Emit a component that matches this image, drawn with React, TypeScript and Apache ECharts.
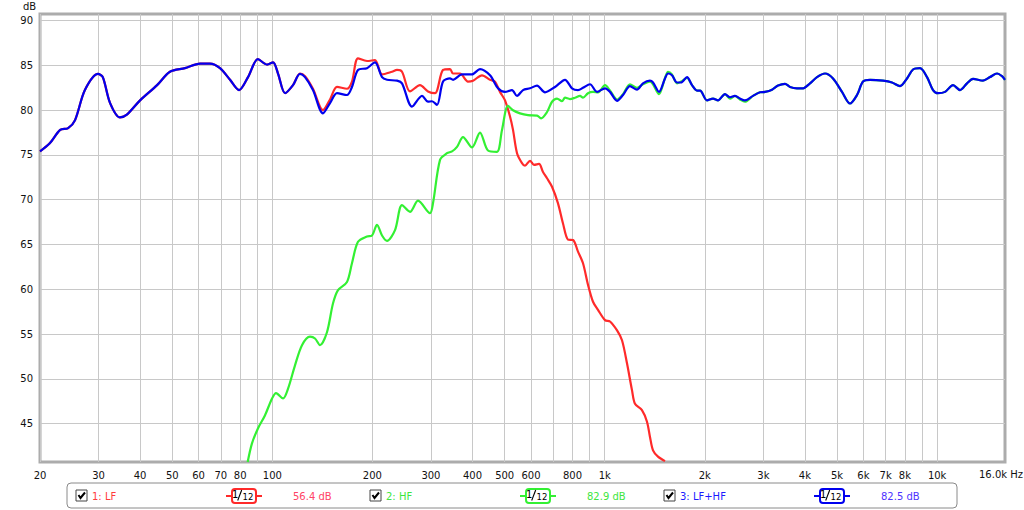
import React, { useEffect, useRef } from "react";
import * as echarts from "echarts";

// ---- axes ----
const GRID_FREQS = [20, 30, 40, 50, 60, 70, 80, 90, 100, 200, 300, 400, 500, 600, 700, 800, 900, 1000, 2000, 3000, 4000, 5000, 6000, 7000, 8000, 9000, 10000];
const LABEL_FREQS = [20, 30, 40, 50, 60, 70, 80, 100, 200, 300, 400, 500, 600, 800, 1000, 2000, 3000, 4000, 5000, 6000, 7000, 8000, 10000];
const DB_TICKS = [45, 50, 55, 60, 65, 70, 75, 80, 85, 90];
const X_MIN = 20;
const X_MAX = 16000;
const Y_MIN = 40.7;
const Y_MAX = 90.75;

// ---- 1: LF ----
const LF_FREQ = [20, 21.4, 23.0, 24.3, 25.5, 27.3, 29.9, 30.9, 32.5, 34.8, 36.5, 40.0, 45.0, 49.2, 54.6, 60.6, 64.9, 69.6, 74.6, 79.4, 84.5, 90.5, 96.4, 100.5, 104.0, 109.2, 115.4, 121.1,
  125.4, 132.5, 142.0, 149.1, 156.5, 167.7, 173.6, 181.0, 192.7, 203.6,
  213.8, 229.1, 237.2, 245.5, 259.5, 278.1, 294.0, 308.6, 326.2, 342.4,
  349.6, 366.9, 387.8, 401.5, 427.3, 451.7, 467.6, 484.0, 501.1, 518.8,
  529.7, 544.6, 563.7, 575.6, 595.9, 612.6, 634.2, 652.0, 670.4, 694.0,
  723.4, 748.9, 775.3, 802.6, 830.9, 860.2, 890.5, 921.9, 954.4, 1002,
  1037, 1089, 1127, 1167, 1208, 1233, 1294, 1340, 1368, 1397, 1446, 1518];
const LF_DB = [75.4, 76.3, 77.8, 78.0, 78.9, 82.25, 84.05, 83.7, 80.8, 79.2, 79.5, 81.1, 82.8, 84.3, 84.7, 85.2, 85.2, 84.7, 83.4, 82.25, 83.7, 85.7, 85.1, 85.35, 84.1, 81.9, 82.8, 84.1,
  83.8, 82.4, 80.0, 81.2, 82.6, 82.4, 83.2, 85.8, 85.5, 85.6,
  84.0, 84.3, 84.5, 84.3, 82.1, 82.8, 82.1, 81.9, 84.5, 84.6,
  84.1, 84.1, 83.2, 83.3, 83.9, 83.4, 83.2, 82.05, 81.1, 79.3,
  77.8, 75.2, 74.1, 73.8, 74.35, 73.9, 74.0, 73.1, 72.4, 71.45,
  69.6, 67.35, 65.55, 65.5, 64.2, 62.9, 60.5, 58.6, 57.7, 56.55,
  56.4, 55.4, 54.3, 51.7, 48.7, 47.2, 46.5, 45.2, 43.5, 42.0, 41.3, 40.8];

// ---- 2: HF ----
const HF_FREQ = [84.3, 86.8, 90.5, 95.0, 99.8, 102.6, 107.7, 111.5, 117.0, 122.8,
  129.8, 134.4, 139.1, 146.0, 152.2, 157.6, 167.7, 173.6, 181.0, 192.7,
  199.4, 206.5, 213.8, 221.3, 233.9, 245.5, 259.5, 274.3, 298.1, 304.3,
  319.5, 335.3, 347.2, 359.4, 374.6, 398.7, 421.4, 445.4, 474.1, 490.8,
  511.6, 529.7, 556.0, 587.7, 625.5, 643.1, 670.4, 694.0, 718.4, 743.7,
  759.4, 786.1, 813.8, 842.5, 860.2, 890.5, 921.9, 954.4, 1002, 1037,
  1089, 1135, 1191, 1250, 1303, 1368, 1397, 1456, 1518, 1550,
  1593, 1650, 1696, 1768, 1830, 1895, 1935,
  2031, 2117, 2191, 2300, 2381, 2465, 2552, 2642, 2793, 2932, 3035, 3186, 3321, 3486, 3609, 3788, 3949, 4145, 4351, 4599, 4861, 5173, 5468, 5740, 5984, 6281, 6873, 7315, 7732, 8116, 8461, 8881, 9323, 9718, 10060, 10561, 11163, 11717, 12299, 12822, 13736, 14422, 15139, 15672, 16000];
const HF_DB = [40.7, 42.75, 44.45, 45.9, 47.8, 48.4, 47.8, 48.9, 51.5, 53.75,
  54.7, 54.5, 53.75, 55.2, 58.4, 59.9, 60.8, 62.9, 65.3, 65.9,
  66.0, 67.2, 66.0, 65.4, 66.6, 69.4, 68.65, 69.9, 68.5, 69.6,
  74.45, 75.2, 75.4, 75.9, 77.0, 75.85, 77.5, 75.5, 75.35, 77.8,
  80.5, 80.0, 79.65, 79.45, 79.4, 79.1, 79.8, 80.95, 81.3, 81.0,
  81.4, 81.25, 81.4, 81.6, 81.4, 81.9, 82.05, 82.0, 82.8, 82.2,
  81.2, 81.8, 82.9, 82.5, 82.9, 83.2, 82.9, 81.8, 83.6, 84.3,
  84.0, 83.0, 83.2, 83.6, 82.8, 82.2, 82.2,
  81.1, 81.3, 81.1, 81.8, 81.3, 81.6, 81.2, 80.95, 81.6, 82.0, 82.05, 82.3, 82.75, 82.95, 82.6, 82.45, 82.45, 83.0, 83.7, 84.1, 83.55, 82.05, 80.75, 81.7, 83.2, 83.4, 83.3, 83.1, 82.7, 83.55, 84.55, 84.7, 83.7, 82.25, 81.9, 82.05, 82.8, 82.25, 83.0, 83.5, 83.3, 83.7, 84.1, 83.8, 83.4];

// ---- 3: LF+HF ----
const SUM_FREQ = [20, 21.4, 23.0, 24.3, 25.5, 27.3, 29.9, 30.9, 32.5, 34.8,
  36.5, 40.0, 45.0, 49.2, 54.6, 60.6, 64.9, 69.6, 74.6, 79.4,
  84.5, 90.5, 96.4, 100.5, 104.0, 109.2, 115.4, 121.1, 125.4, 132.5,
  142.0, 149.1, 156.5, 167.7, 173.6, 181.0, 192.7, 203.6, 213.8, 221.3,
  237.2, 245.5, 263.1, 282.0, 294.0, 302.2, 312.9, 326.2, 342.4, 349.6,
  372.0, 398.7, 421.4, 451.7, 477.4, 501.1, 526.0, 544.6, 567.7, 595.9,
  625.5, 661.1, 708.5, 759.4, 797.1, 830.9, 860.2, 902.9, 947.8, 1002,
  1037, 1089, 1135, 1191, 1250, 1303, 1368, 1397, 1456, 1518,
  1550, 1593, 1650, 1696, 1768, 1830, 1895, 1935, 2031, 2117,
  2191, 2300, 2381, 2465, 2552, 2642, 2793, 2932, 3035, 3186,
  3321, 3486, 3609, 3788, 3949, 4145, 4351, 4599, 4861, 5173,
  5468, 5740, 5984, 6281, 6873, 7315, 7732, 8116, 8461, 8881,
  9323, 9718, 10060, 10561, 11163, 11717, 12299, 12822, 13736, 14422,
  15139, 15672, 16000];
const SUM_DB = [75.4, 76.3, 77.8, 78.0, 78.9, 82.25, 84.05, 83.7, 80.8, 79.2,
  79.5, 81.1, 82.8, 84.3, 84.7, 85.2, 85.2, 84.7, 83.4, 82.25,
  83.7, 85.7, 85.1, 85.35, 84.1, 81.9, 82.8, 84.05, 83.7, 82.25,
  79.65, 80.8, 81.9, 81.7, 82.6, 84.5, 84.7, 85.35, 83.7, 83.4,
  83.3, 83.0, 80.4, 81.6, 80.95, 81.0, 80.6, 83.2, 83.55, 83.4,
  84.0, 84.0, 84.6, 83.9, 82.45, 82.05, 82.25, 81.6, 82.25, 82.45,
  82.75, 82.0, 82.6, 83.4, 82.45, 82.25, 82.5, 82.9, 82.05, 82.45,
  82.05, 81.05, 81.7, 82.7, 82.3, 83.0, 83.3, 83.1, 82.05, 83.55,
  84.1, 83.9, 83.1, 83.1, 83.7, 82.8, 82.2, 82.2, 81.1, 81.3,
  81.1, 81.8, 81.45, 81.6, 81.3, 81.1, 81.6, 82.0, 82.05, 82.3,
  82.75, 82.95, 82.6, 82.45, 82.45, 83.0, 83.7, 84.1, 83.55, 82.05,
  80.75, 81.7, 83.2, 83.4, 83.3, 83.1, 82.7, 83.55, 84.55, 84.7,
  83.7, 82.25, 81.9, 82.05, 82.8, 82.25, 83.0, 83.5, 83.3, 83.7,
  84.1, 83.8, 83.4];

// ---- legend ----
const LEGEND_NAMES = ["1: LF", "2: HF", "3: LF+HF"];
const LEGEND_VALUES = ["56.4 dB", "82.9 dB", "82.5 dB"];
const LINE_COLORS = ["#ff2a2a", "#33f033", "#0000ee"];
const NAME_COLORS = ["#ff3b3b", "#3ee63e", "#1a1aff"];
const VALUE_COLORS = ["#ff4466", "#3ee63e", "#4d33ff"];

const FONT = '"DejaVu Sans", Verdana, sans-serif';

function pairs(fs: number[], ds: number[]) {
  return fs.map((f, i) => [f, ds[i]]);
}

function badge(cx: number, cy: number, color: string) {
  return {
    type: "group",
    children: [
      { type: "line", shape: { x1: cx - 18, y1: cy, x2: cx + 18, y2: cy }, style: { stroke: color, lineWidth: 2 } },
      { type: "rect", shape: { x: cx - 12, y: cy - 7, width: 24, height: 14, r: 3 }, style: { fill: "#fff", stroke: color, lineWidth: 2 } },
      { type: "text", x: cx - 12, y: cy - 6.5, style: { text: "1", fontSize: 10, fontFamily: FONT, fill: "#000", verticalAlign: "top" } },
      { type: "line", shape: { x1: cx - 2.3, y1: cy - 6, x2: cx - 6.3, y2: cy + 4.5 }, style: { stroke: "#000", lineWidth: 1.1 } },
      { type: "text", x: cx - 1.5, y: cy + 5.5, style: { text: "12", fontSize: 8.5, fontFamily: FONT, fill: "#000", verticalAlign: "bottom" } },
    ],
  };
}

function checkbox(x: number, y: number) {
  return {
    type: "group",
    children: [
      { type: "rect", shape: { x, y, width: 11, height: 11 }, style: { fill: "#fff", stroke: "#444", lineWidth: 1 } },
      { type: "polyline", shape: { points: [[x + 2.5, y + 5], [x + 4.5, y + 8], [x + 9, y + 2.5]] }, style: { stroke: "#000", lineWidth: 2, fill: null } },
    ],
  };
}

export default function App() {
  const ref = useRef<HTMLDivElement>(null);
  useEffect(() => {
    document.body.style.margin = "0";
    const chart = echarts.init(ref.current!, null, { renderer: "svg" });
    const cbX = [76, 370, 664];
    const nameX = [92, 386, 680];
    const badgeX = [244, 538, 832];
    const valueX = [293, 587, 881];
    const legendEls: any[] = [
      { type: "rect", shape: { x: 67, y: 483, width: 890, height: 25, r: 4 }, style: { fill: "#fff", stroke: "#8a8a8a", lineWidth: 1 } },
    ];
    for (let i = 0; i < 3; i++) {
      legendEls.push(checkbox(cbX[i], 490));
      legendEls.push({ type: "text", x: nameX[i], y: 496, style: { text: LEGEND_NAMES[i], fill: NAME_COLORS[i], fontSize: 10, fontFamily: FONT, verticalAlign: "middle" } });
      legendEls.push(badge(badgeX[i], 496, LINE_COLORS[i]));
      legendEls.push({ type: "text", x: valueX[i], y: 496, style: { text: LEGEND_VALUES[i], fill: VALUE_COLORS[i], fontSize: 10, fontFamily: FONT, verticalAlign: "middle" } });
    }
    const lineSeries = (name: string, data: number[][], color: string, z: number) => ({
      name,
      type: "line",
      data,
      showSymbol: false,
      smooth: 0.3,
      z,
      lineStyle: { color, width: 2.2 },
      itemStyle: { color },
    });
    chart.setOption({
      animation: false,
      backgroundColor: "#fff",
      grid: { left: 40, right: 19, top: 14, bottom: 48, show: true, borderColor: "#acacac", borderWidth: 3, backgroundColor: "#fff" },
      xAxis: {
        type: "log",
        logBase: 10,
        min: X_MIN,
        max: X_MAX,
        axisLine: { show: false },
        axisTick: { show: false, customValues: GRID_FREQS },
        axisLabel: {
          customValues: LABEL_FREQS,
          formatter: (v: number) => (v >= 1000 ? Math.round(v / 1000) + "k" : String(Math.round(v))),
          fontSize: 10,
          fontFamily: FONT,
          color: "#111",
          margin: 8,
        },
        splitLine: { show: true, lineStyle: { color: "#c8c8c8", width: 1 } },
      },
      yAxis: {
        type: "value",
        min: Y_MIN,
        max: Y_MAX,
        axisLine: { show: false },
        axisTick: { show: false, customValues: DB_TICKS },
        axisLabel: { customValues: DB_TICKS, fontSize: 10, fontFamily: FONT, color: "#111", margin: 7 },
        splitLine: { show: true, lineStyle: { color: "#c8c8c8", width: 1 } },
      },
      graphic: [
        { type: "text", x: 23, y: 1, style: { text: "dB", fontSize: 10, fontFamily: FONT, fill: "#111", verticalAlign: "top" } },
        { type: "text", x: 979, y: 474, style: { text: "16.0k Hz", fontSize: 10, fontFamily: FONT, fill: "#111", verticalAlign: "middle" } },
        ...legendEls,
      ],
      series: [
        lineSeries("1: LF", pairs(LF_FREQ, LF_DB), LINE_COLORS[0], 2),
        lineSeries("2: HF", pairs(HF_FREQ, HF_DB), LINE_COLORS[1], 3),
        lineSeries("3: LF+HF", pairs(SUM_FREQ, SUM_DB), LINE_COLORS[2], 4),
      ],
    });
    return () => chart.dispose();
  }, []);
  return <div ref={ref} style={{ width: 1024, height: 510, background: "#fff" }} />;
}
